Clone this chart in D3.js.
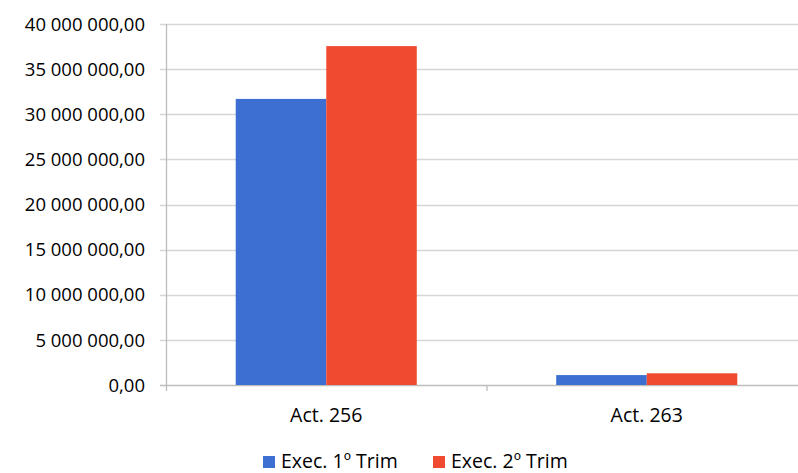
<!DOCTYPE html>
<html>
<head>
<meta charset="utf-8">
<script src="https://cdn.jsdelivr.net/npm/d3@7"></script>
<style>
  html, body { margin: 0; padding: 0; background: #fff; }
  svg { display: block; font-family: "Open Sans", Lato, sans-serif; }
</style>
</head>
<body>
<svg id="chart" width="798" height="473"></svg>
<script>
// Execution per activity, by quarter
const categories = ["Act. 256", "Act. 263"];
const seriesNames = ["Exec. 1º Trim", "Exec. 2º Trim"];
const trim1 = [31700000, 1100000];
const trim2 = [37550000, 1300000];
const yTicks = [0, 5000000, 10000000, 15000000, 20000000, 25000000, 30000000, 35000000, 40000000];
const colors = ["#3c6fd1", "#f04b30"];

const svg = d3.select("#chart");
const margin = { left: 166, right: -9, top: 24, bottom: 88 };
const W = 798, H = 473;

const x = d3.scaleBand()
  .domain(categories)
  .range([margin.left, W - margin.right])
  .paddingInner(0)
  .paddingOuter(0);

const xInner = d3.scaleBand()
  .domain(seriesNames)
  .range([0, x.bandwidth()])
  .paddingOuter(0.77)
  .paddingInner(0);

const y = d3.scaleLinear()
  .domain([0, 40000000])
  .range([H - margin.bottom, margin.top]);

const fmt = v => d3.format(",.2f")(v).replace(/,/g, " ").replace(".", ",");

// gridlines
svg.append("g")
  .selectAll("line")
  .data(yTicks)
  .join("line")
  .attr("x1", margin.left - 6)
  .attr("x2", W)
  .attr("y1", d => Math.round(y(d)) + 0.5)
  .attr("y2", d => Math.round(y(d)) + 0.5)
  .attr("stroke", d => d === 0 ? "#bdbdbd" : "#d6d6d6")
  .attr("stroke-width", 1.3);

// y axis labels
svg.append("g")
  .selectAll("text")
  .data(yTicks)
  .join("text")
  .attr("x", 145)
  .attr("y", d => y(d))
  .attr("dy", "0.36em")
  .attr("text-anchor", "end")
  .attr("font-size", 18.5)
  .attr("fill", "#000")
  .text(fmt);

// vertical axis line
svg.append("line")
  .attr("x1", margin.left + 0.5).attr("x2", margin.left + 0.5)
  .attr("y1", margin.top).attr("y2", y(0) + 6)
  .attr("stroke", "#bdbdbd").attr("stroke-width", 1.3);

// category separator tick
svg.append("line")
  .attr("x1", x(categories[1]) + 0.5).attr("x2", x(categories[1]) + 0.5)
  .attr("y1", y(0)).attr("y2", y(0) + 6)
  .attr("stroke", "#bdbdbd").attr("stroke-width", 1.3);

// bars
const rows = categories.map((c, i) => ({ cat: c, vals: [trim1[i], trim2[i]] }));
const groups = svg.append("g")
  .selectAll("g")
  .data(rows)
  .join("g")
  .attr("transform", d => `translate(${x(d.cat)},0)`);

groups.selectAll("rect")
  .data(d => d.vals.map((v, j) => ({ v, s: seriesNames[j], j })))
  .join("rect")
  .attr("x", d => xInner(d.s))
  .attr("width", xInner.bandwidth())
  .attr("y", d => y(d.v))
  .attr("height", d => y(0) - y(d.v))
  .attr("fill", d => colors[d.j]);

// category labels
svg.append("g")
  .selectAll("text")
  .data(categories)
  .join("text")
  .attr("x", d => x(d) + x.bandwidth() / 2)
  .attr("y", 422)
  .attr("text-anchor", "middle")
  .attr("font-size", 19.5)
  .attr("fill", "#000")
  .text(d => d);

// legend
const legendX = [263, 433];
const legend = svg.append("g")
  .selectAll("g")
  .data(seriesNames)
  .join("g")
  .attr("transform", (d, i) => `translate(${legendX[i]},0)`);
legend.append("rect")
  .attr("x", 0).attr("y", 456)
  .attr("width", 12).attr("height", 12)
  .attr("fill", (d, i) => colors[i]);
legend.append("text")
  .attr("x", 18).attr("y", 468)
  .attr("font-size", 19.5)
  .attr("fill", "#000")
  .text(d => d);
</script>
</body>
</html>
